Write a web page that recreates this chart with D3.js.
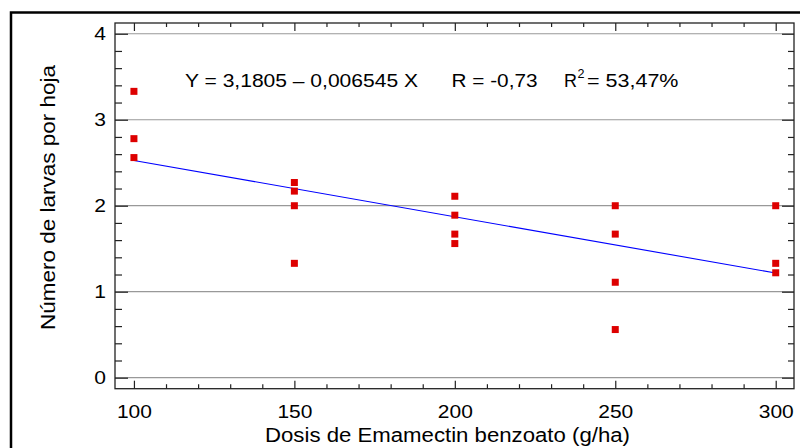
<!DOCTYPE html>
<html>
<head>
<meta charset="utf-8">
<script src="https://cdn.jsdelivr.net/npm/d3@7"></script>
<style>
  body { margin: 0; background: #fff; }
  text { font-family: "Liberation Sans", Arial, sans-serif; fill: #000; }
</style>
</head>
<body>
<div class="chart"></div>
<script>
// Dose (g/ha) and larvae per leaf
const dose   = [100, 100, 100, 150, 150, 150, 150, 200, 200, 200, 200, 250, 250, 250, 250, 300, 300, 300];
const larvae = [3.33, 2.78, 2.56, 2.27, 2.17, 2.0, 1.33, 2.11, 1.89, 1.67, 1.56, 2.0, 1.67, 1.11, 0.56, 2.0, 1.33, 1.22];

const xTicks = [100, 150, 200, 250, 300];
const yTicks = [0, 1, 2, 3, 4];
const intercept = 3.1805, slope = -0.006545;

const width = 800, height = 448;
const plotL = 115, plotR = 794, plotT = 23, plotB = 388.7;

let svg = d3.select("div.chart")
    .append("svg")
    .attr("width", width)
    .attr("height", height);

// outer frame
svg.append("rect")
    .attr("x", 11).attr("y", 12.5)
    .attr("width", 820).attr("height", 460)
    .attr("fill", "none").attr("stroke", "#000").attr("stroke-width", 2.5);

let x = d3.scaleLinear().domain([94.1, 305.7]).range([plotL, plotR]);
let y = d3.scaleLinear().domain([-0.128, 4.125]).range([plotB, plotT]);

let xMinor = d3.range(90, 311, 10).filter(v => !xTicks.includes(v) && v > 94 && v < 306);
let yMinor = d3.range(0, 4.01, 0.2).map(v => +v.toFixed(1)).filter(v => !yTicks.includes(v));

// horizontal grid
svg.append("g")
    .selectAll("line")
    .data(yTicks)
    .enter().append("line")
    .attr("x1", plotL).attr("x2", plotR)
    .attr("y1", d => y(d)).attr("y2", d => y(d))
    .attr("stroke", "#999").attr("stroke-width", 1.2);

function styleAxis(g) {
    g.select(".domain").remove();
    g.selectAll("line").attr("stroke", "#222").attr("stroke-width", 1.2);
}

// bottom and top axes (ticks point inward)
let xb = svg.append("g").attr("transform", `translate(0,${plotB})`)
    .call(d3.axisBottom(x).tickValues(xTicks).tickSize(-8).tickFormat(d3.format("d")));
xb.call(styleAxis);
xb.selectAll("text")
    .attr("dy", null).attr("y", 29)
    .attr("font-size", 19).attr("font-family", null)
    .attr("textLength", 35).attr("lengthAdjust", "spacingAndGlyphs");
svg.append("g").attr("transform", `translate(0,${plotB})`)
    .call(d3.axisBottom(x).tickValues(xMinor).tickSize(-4.5).tickFormat(""))
    .call(styleAxis);
svg.append("g").attr("transform", `translate(0,${plotT})`)
    .call(d3.axisTop(x).tickValues(xTicks).tickSize(-8).tickFormat(""))
    .call(styleAxis);
svg.append("g").attr("transform", `translate(0,${plotT})`)
    .call(d3.axisTop(x).tickValues(xMinor).tickSize(-4).tickFormat(""))
    .call(styleAxis);

// left and right axes
let yl = svg.append("g").attr("transform", `translate(${plotL},0)`)
    .call(d3.axisLeft(y).tickValues(yTicks).tickSize(-13).tickPadding(9).tickFormat(d3.format("d")));
yl.call(styleAxis);
yl.selectAll("text")
    .attr("font-size", 19).attr("font-family", null)
    .attr("textLength", 11.7).attr("lengthAdjust", "spacingAndGlyphs");
svg.append("g").attr("transform", `translate(${plotL},0)`)
    .call(d3.axisLeft(y).tickValues(yMinor).tickSize(-7).tickFormat(""))
    .call(styleAxis);
svg.append("g").attr("transform", `translate(${plotR},0)`)
    .call(d3.axisRight(y).tickValues(yTicks).tickSize(-12).tickFormat(""))
    .call(styleAxis);
svg.append("g").attr("transform", `translate(${plotR},0)`)
    .call(d3.axisRight(y).tickValues(yMinor).tickSize(-6).tickFormat(""))
    .call(styleAxis);

// plot area border
svg.append("rect")
    .attr("x", plotL).attr("y", plotT)
    .attr("width", plotR - plotL).attr("height", plotB - plotT)
    .attr("fill", "none").attr("stroke", "#222").attr("stroke-width", 1.3);

// fitted line
let xExt = d3.extent(dose);
svg.append("line")
    .attr("x1", x(xExt[0])).attr("y1", y(intercept + slope * xExt[0]))
    .attr("x2", x(xExt[1])).attr("y2", y(intercept + slope * xExt[1]))
    .attr("stroke", "#0000ff").attr("stroke-width", 1.1);

// observations
const s = 7;
svg.append("g")
    .selectAll("rect")
    .data(dose.map((d, i) => ({ dose: d, larvae: larvae[i] })))
    .enter().append("rect")
    .attr("x", d => x(d.dose) - s / 2)
    .attr("y", d => y(d.larvae) - s / 2)
    .attr("width", s).attr("height", s)
    .attr("fill", "#dd0000");

// regression text
function label(txt, tx, ty, size, len) {
    let t = svg.append("text").attr("x", tx).attr("y", ty).attr("font-size", size).text(txt);
    if (len) t.attr("textLength", len).attr("lengthAdjust", "spacingAndGlyphs");
    return t;
}
label("Y = 3,1805 \u2013 0,006545 X", 185, 87.3, 19, 233);
label("R = -0,73", 451.5, 87.3, 19, 86);
label("R", 564, 87.3, 19, 13);
label("2", 577.5, 77.5, 12, 7);
label("= 53,47%", 587, 87.3, 19, 91.5);

// axis titles
label("Dosis de Emamectin benzoato (g/ha)", 265, 441.5, 20, 365);
svg.append("text")
    .attr("transform", "translate(55,330) rotate(-90)")
    .attr("font-size", 20)
    .attr("textLength", 265).attr("lengthAdjust", "spacingAndGlyphs")
    .text("Número de larvas por hoja");
</script>
</body>
</html>
